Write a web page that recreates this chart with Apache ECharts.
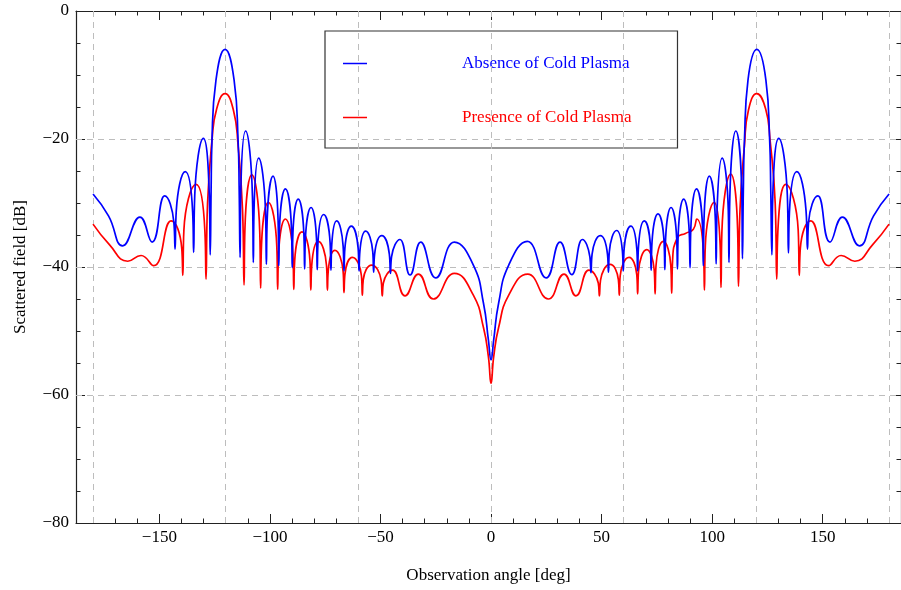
<!DOCTYPE html>
<html>
<head>
<meta charset="utf-8">
<script src="https://cdn.jsdelivr.net/npm/echarts@6/dist/echarts.min.js"></script>
<style>
html, body { margin: 0; padding: 0; background: #fff; }
#chart { width: 901px; height: 590px; }
</style>
</head>
<body>
<div id="chart"></div>
<script>
// scattered field vs observation angle
var seriesNames = ['Absence of Cold Plasma', 'Presence of Cold Plasma'];

var blueAngle = [-180, -173, -166.6, -158.8, -153.3, -147.6,
    -143.45, -142.9, -142.35, -138.3, -134.95, -134.5, -134.0, -130.1,
    -127.4, -127.0, -126.6, -126.2, -124.4, -120.3, -116.2, -114.4, -113.9, -113.5, -113.2, -111.0,
    -107.9, -107.5, -107.2, -105.1, -102.0, -101.6, -101.25, -98.6, -96.3, -96.0, -95.65, -93.0,
    -90.25, -89.9, -89.6, -87.2, -84.65, -84.3, -83.95, -81.4, -78.95, -78.6, -78.25, -75.7,
    -72.8, -72.4, -72.05, -69.8, -66.9, -66.5, -66.1, -63.2, -60.1, -59.7, -59.3, -56.7,
    -53.5, -53.1, -52.65, -49.4, -46.0, -45.5, -45.0, -41.2, -36.6, -31.8, -25.0, -16.6,
    -8.0, -3.4, -1.2, 0, 1.2, 3.4, 8.0,
    16.4, 24.9, 31.2, 36.5, 41.3, 44.7, 45.2, 45.7, 49.4, 52.65, 53.1, 53.5, 56.8,
    59.4, 59.8, 60.2, 63.2, 65.9, 66.3, 66.7, 69.3, 72.05, 72.4, 72.8, 75.5,
    78.25, 78.6, 78.95, 81.4, 83.95, 84.3, 84.65, 87.1, 89.65, 90.0, 90.35, 92.9,
    95.65, 96.0, 96.3, 98.7, 101.45, 101.8, 102.2, 104.5, 107.3, 107.6, 108.0, 110.7,
    113.4, 113.7, 114.1, 114.6, 116.2, 120.2, 124.3, 126.0, 126.5, 127.0, 127.4, 130.1,
    134.0, 134.5, 134.95, 138.3, 142.45, 143.1, 143.6, 147.8,
    153.3, 158.9, 166.6, 173, 180];
var blueDb = [-28.6, -32.0, -36.7, -32.2, -36.1, -28.9,
    -33.0, -37.2, -31.2, -25.1, -31.4, -37.7, -28.8, -19.9,
    -29.0, -38.1, -28.0, -20.2, -10.8, -6.0, -10.8, -20.2, -28.0, -38.5, -28.6, -18.75,
    -29.0, -39.3, -31.2, -23.0, -31.3, -39.6, -32.7, -25.8, -32.8, -39.8, -33.8, -27.8,
    -34.0, -40.1, -34.7, -29.4, -34.8, -40.3, -35.5, -30.7, -35.5, -40.4, -36.1, -31.8,
    -36.1, -40.5, -36.6, -32.8, -36.7, -40.6, -37.1, -33.6, -37.1, -40.6, -37.5, -34.4,
    -37.6, -40.8, -38.0, -35.1, -38.0, -41.0, -38.4, -35.7, -41.25, -36.1, -41.7, -36.1,
    -39.7, -45.7, -51.4, -54.5, -51.4, -45.7, -39.7,
    -36.0, -41.7, -36.1, -41.2, -35.7, -38.4, -40.9, -38.0, -35.1, -38.0, -40.8, -37.6, -34.3,
    -37.5, -40.6, -37.1, -33.6, -37.1, -40.6, -36.7, -32.8, -36.6, -40.5, -36.1, -31.7,
    -36.1, -40.4, -35.5, -30.7, -35.5, -40.3, -34.8, -29.4, -34.7, -40.1, -34.0, -27.8,
    -33.8, -39.8, -32.8, -25.8, -32.7, -39.5, -31.3, -23.0, -31.2, -39.3, -29.0, -18.75,
    -28.6, -38.7, -28.0, -20.2, -10.8, -6.0, -10.8, -20.2, -28.0, -38.1, -29.0, -19.9,
    -28.8, -37.8, -31.4, -25.1, -31.2, -37.2, -33.0, -28.9,
    -36.1, -32.2, -36.7, -32.0, -28.6];

var redAngle = [-180, -172.6, -164.3, -158.3, -152.6, -144.7,
    -139.9, -139.4, -138.9, -133.4, -129.4, -128.9, -128.2, -126.2, -124.1, -120.3,
    -116.5, -114.4, -112.4, -111.7, -111.3, -108.2, -104.6, -104.2, -103.8, -100.7,
    -96.9, -96.5, -96.1, -93.0, -89.6, -89.2, -88.8, -85.5, -81.9, -81.5, -81.1, -78.1,
    -74.4, -74.0, -73.6, -70.6, -66.9, -66.5, -66.1, -62.7, -58.6, -58.2, -57.8, -54.0,
    -49.7, -49.2, -48.7, -44.5, -38.9, -32.9, -26.1, -16.6,
    -8.0, -3.4, -1.2, 0, 1.2, 3.4, 8.0,
    16.6, 25.9, 33.0, 38.4, 44.2, 48.5, 49.0, 49.5, 53.8, 57.6, 58.0, 58.4, 62.4,
    65.9, 66.3, 66.7, 70.4, 73.8, 74.2, 74.6, 77.9, 81.3, 81.7, 82.1, 84.3, 87.9, 91.5, 93.0,
    96.1, 96.5, 96.9, 100.9, 103.6, 104.0, 104.4, 108.4, 111.5, 111.9, 112.6, 114.6, 116.4, 120.2,
    124.2, 126.2, 128.5, 129.2, 129.7, 133.3, 138.9, 139.4, 139.9, 144.6,
    152.7, 158.3, 164.5, 172.6, 180];
var redDb = [-33.3, -36.5, -39.1, -38.2, -39.8, -32.8,
    -37.0, -41.3, -34.2, -27.1, -34.5, -41.9, -30.0, -20.2, -15.3, -12.9,
    -15.5, -21.0, -31.0, -42.8, -34.0, -25.6, -34.5, -43.3, -36.5, -29.9,
    -36.7, -43.5, -38.0, -32.5, -38.0, -43.5, -39.0, -34.5, -39.0, -43.6, -39.8, -36.0,
    -39.8, -43.6, -40.5, -37.4, -40.7, -44.0, -41.2, -38.5, -41.4, -44.4, -42.0, -39.7,
    -42.1, -44.5, -42.5, -40.5, -44.5, -41.1, -45.0, -41.0,
    -44.4, -49.5, -54.0, -58.2, -54.0, -49.5, -44.4,
    -41.1, -45.0, -41.1, -44.5, -40.5, -42.5, -44.5, -42.1, -39.6, -42.0, -44.4, -41.4, -38.5,
    -41.2, -44.2, -40.7, -37.3, -40.5, -44.2, -39.8, -36.0, -39.8, -44.1, -39.0, -35.4, -34.75, -34.1, -32.5,
    -38.0, -43.6, -36.7, -29.9, -36.5, -43.2, -34.5, -25.5, -34.0, -43.0, -31.0, -21.0, -15.5, -12.9,
    -15.3, -20.2, -30.0, -41.9, -34.5, -27.1, -34.2, -41.3, -37.0, -32.8,
    -39.8, -38.2, -39.1, -36.5, -33.3];

var xLabelValues = [-150, -100, -50, 0, 50, 100, 150];
var xMinorValues = [-180, -170, -160, -150, -140, -130, -120, -110, -100, -90, -80, -70, -60, -50, -40, -30, -20, -10,
    0, 10, 20, 30, 40, 50, 60, 70, 80, 90, 100, 110, 120, 130, 140, 150, 160, 170, 180];
var gridAngles = [-180, -120, -60, 0, 60, 120, 180];
var gridLevels = [-60, -40, -20];

var font = 'Liberation Serif';
var frameColor = '#222';
var xMin = -187.7, xMax = 185.4;

function pairs(xs, ys) {
    return xs.map(function (x, i) { return [x, ys[i]]; });
}
function minusSign(v) {
    return String(v).replace('-', '\u2212');
}

function xAxisOf(pos, ticks, tickLen, showLine, showLabel) {
    var ax = {
        type: 'value', min: xMin, max: xMax, position: pos,
        axisLine: { show: showLine, onZero: false, lineStyle: { color: frameColor, width: 1.2 } },
        axisTick: { show: true, inside: true, length: tickLen, customValues: ticks, lineStyle: { color: frameColor, width: 1 } },
        axisLabel: { show: showLabel, customValues: ticks, formatter: minusSign, color: '#000', fontFamily: font, fontSize: 17, margin: 6 },
        splitLine: { show: false }
    };
    if (showLabel) {
        ax.name = 'Observation angle [deg]';
        ax.nameLocation = 'middle';
        ax.nameGap = 44;
        ax.nameTextStyle = { fontFamily: font, fontSize: 17, color: '#000' };
    }
    return ax;
}

function yAxisOf(pos, showLabel) {
    var ax = {
        type: 'value', min: -80, max: 0, interval: 20, position: pos,
        axisLine: { show: true, onZero: false, lineStyle: { color: frameColor, width: 1.2 } },
        axisTick: { show: true, inside: true, length: 9, lineStyle: { color: frameColor, width: 1 } },
        minorTick: { show: true, splitNumber: 4, length: 4.5, lineStyle: { color: frameColor, width: 1 } },
        axisLabel: { show: showLabel, formatter: minusSign, color: '#000', fontFamily: font, fontSize: 17, margin: 7 },
        splitLine: { show: false }
    };
    if (showLabel) {
        ax.name = 'Scattered field [dB]';
        ax.nameLocation = 'middle';
        ax.nameGap = 47;
        ax.nameTextStyle = { fontFamily: font, fontSize: 17, color: '#000' };
    }
    return ax;
}

var gridMarks = gridAngles.map(function (v) { return { xAxis: v }; })
    .concat(gridLevels.map(function (v) { return { yAxis: v }; }));

var option = {
    animation: false,
    backgroundColor: '#fff',
    grid: { left: 76, right: 0, top: 11, bottom: 67 },
    legend: {
        left: 325, top: 31,
        orient: 'vertical',
        padding: [24, 46, 22, 18],
        itemGap: 37,
        itemWidth: 24,
        itemHeight: 1.5,
        icon: 'rect',
        borderColor: '#333',
        borderWidth: 1.2,
        selectedMode: false,
        textStyle: { fontFamily: font, fontSize: 17, padding: [0, 0, 0, 90] },
        data: [
            { name: seriesNames[0], textStyle: { color: '#0000ff' } },
            { name: seriesNames[1], textStyle: { color: '#ff0000' } }
        ]
    },
    xAxis: [
        xAxisOf('bottom', xLabelValues, 9, true, true),
        xAxisOf('bottom', xMinorValues, 4.5, false, false),
        xAxisOf('top', xLabelValues, 9, true, false),
        xAxisOf('top', xMinorValues, 4.5, false, false)
    ],
    yAxis: [yAxisOf('left', true), yAxisOf('right', false)],
    series: [
        {
            type: 'line', name: 'grid', data: [], z: 1, silent: true,
            markLine: {
                silent: true, symbol: 'none', animation: false,
                label: { show: false },
                lineStyle: { color: '#bdbdbd', type: [6, 5], width: 1 },
                data: gridMarks
            }
        },
        {
            type: 'line', name: seriesNames[1], data: pairs(redAngle, redDb),
            smooth: 0.5, showSymbol: false, z: 10,
            lineStyle: { color: '#ff0000', width: 1.7 }, itemStyle: { color: '#ff0000' }
        },
        {
            type: 'line', name: seriesNames[0], data: pairs(blueAngle, blueDb),
            smooth: 0.5, showSymbol: false, z: 11,
            lineStyle: { color: '#0000ff', width: 1.7 }, itemStyle: { color: '#0000ff' }
        }
    ]
};

var chart = echarts.init(document.getElementById('chart'));
chart.setOption(option);
</script>
</body>
</html>
